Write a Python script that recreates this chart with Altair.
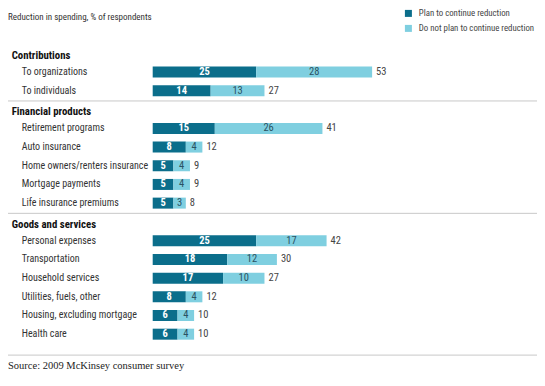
import altair as alt
import pandas as pd

# ---- data ----
groups = ["Contributions", "Financial products", "Goods and services"]
items = [
    ["To organizations", "To individuals"],
    ["Retirement programs", "Auto insurance", "Home owners/renters insurance",
     "Mortgage payments", "Life insurance premiums"],
    ["Personal expenses", "Transportation", "Household services",
     "Utilities, fuels, other", "Housing, excluding mortgage", "Health care"],
]
plan = [[25, 14], [15, 8, 5, 5, 5], [25, 18, 17, 8, 6, 6]]
not_plan = [[28, 13], [26, 4, 4, 4, 3], [17, 12, 10, 4, 4, 4]]
totals = [[53, 27], [41, 12, 9, 9, 8], [42, 30, 27, 12, 10, 10]]
series = ["Plan to continue reduction", "Do not plan to continue reduction"]
title_text = "Reduction in spending, % of respondents"
source_text = "Source: 2009 McKinsey consumer survey"

# ---- layout constants (page pixels) ----
OFFX, OFFY = 8, 8
W, H = 529, 370
FIRST_HEADER = 52
HEAD_GAP = 16.7
STEP = 19.2
SEP_GAP = 10.5
AFTER_SEP = 11.5
FOOT_GAP = 21.5
SOURCE_GAP = 11
BAR_X0 = 152.7 - OFFX
PX_PER_UNIT = 4.14

FONT = "Roboto Condensed, Roboto"
SERIF = "Liberation Serif, Times New Roman, serif"
DARK = "#0b6e8b"
LIGHT = "#7fcfe0"

header_rows, item_rows, bar_rows, sep_rows = [], [], [], []
y = FIRST_HEADER
for gi, g in enumerate(groups):
    header_rows.append({"label": g, "y": y})
    yy = y + HEAD_GAP
    for ii, it in enumerate(items[gi]):
        p, n, t = plan[gi][ii], not_plan[gi][ii], totals[gi][ii]
        item_rows.append({"label": it, "y": yy, "plan": p, "notplan": n,
                          "total": t, "mid_p": p / 2, "mid_n": p + n / 2})
        bar_rows.append({"y": yy, "series": series[0], "start": 0, "end": p})
        bar_rows.append({"y": yy, "series": series[1], "start": p, "end": p + n})
        last = yy
        yy += STEP
    if gi < len(groups) - 1:
        sep = last + SEP_GAP
        sep_rows.append({"y": sep})
        y = sep + AFTER_SEP
    else:
        sep = last + FOOT_GAP
        sep_rows.append({"y": sep})
        source_y = sep + SOURCE_GAP

headers = pd.DataFrame(header_rows)
rows = pd.DataFrame(item_rows)
bars = pd.DataFrame(bar_rows)
seps = pd.DataFrame(sep_rows)
misc = pd.DataFrame([{"label": title_text, "y": 12.5, "kind": "title"},
                     {"label": source_text, "y": source_y, "kind": "source"}])

xs = alt.Scale(domain=[0, 100], range=[BAR_X0, BAR_X0 + 100 * PX_PER_UNIT],
               zero=False, nice=False)
ys = alt.Scale(domain=[OFFY, OFFY + H], range=[0, H], zero=False, nice=False)
Y = alt.Y("y:Q", scale=ys, axis=None)

bar_layer = alt.Chart(bars).mark_bar(size=11, orient="horizontal").encode(
    x=alt.X("start:Q", scale=xs, axis=None),
    x2="end:Q",
    y=Y,
    color=alt.Color(
        "series:N",
        scale=alt.Scale(domain=series, range=[DARK, LIGHT]),
        legend=alt.Legend(
            title=None, orient="none", legendX=396, legendY=1,
            symbolType="square", symbolSize=49, symbolStrokeWidth=0,
            labelFont=FONT, labelFontSize=8.8, labelColor="#444444",
            labelOffset=6, rowPadding=5, padding=0, symbolOpacity=1,
            labelLimit=200,
        ),
    ),
)

plan_lbl = alt.Chart(rows).mark_text(
    font=FONT, fontSize=10.5, fontWeight="bold", color="white", baseline="middle"
).encode(x=alt.X("mid_p:Q", scale=xs), y=Y, text="plan:Q")

notplan_lbl = alt.Chart(rows).mark_text(
    font=FONT, fontSize=10.5, color="#2a5262", baseline="middle"
).encode(x=alt.X("mid_n:Q", scale=xs), y=Y, text="notplan:Q")

total_lbl = alt.Chart(rows).mark_text(
    font=FONT, fontSize=10.5, color="#444444", baseline="middle", align="left", dx=4
).encode(x=alt.X("total:Q", scale=xs), y=Y, text="total:Q")

item_lbl = alt.Chart(rows).mark_text(
    font=FONT, fontSize=10, color="#333333", baseline="middle", align="left"
).encode(x=alt.value(21.7 - OFFX), y=Y, text="label:N")

head_lbl = alt.Chart(headers).mark_text(
    font=FONT, fontSize=10.8, fontWeight="bold", color="#111111",
    baseline="middle", align="left"
).encode(x=alt.value(11.7 - OFFX), y=Y, text="label:N")

sep_layer = alt.Chart(seps).mark_rule(color="#c8c8c8", strokeWidth=1).encode(
    x=alt.value(0), x2=alt.value(538 - OFFX), y=Y
)

title_lbl = alt.Chart(misc).transform_filter("datum.kind == 'title'").mark_text(
    font=FONT, fontSize=9, color="#333333", baseline="middle", align="left"
).encode(x=alt.value(0), y=Y, text="label:N")

source_lbl = alt.Chart(misc).transform_filter("datum.kind == 'source'").mark_text(
    font=SERIF, fontSize=10.5, color="#222222", baseline="middle", align="left"
).encode(x=alt.value(0), y=Y, text="label:N")

chart = alt.layer(
    sep_layer, bar_layer, plan_lbl, notplan_lbl, total_lbl,
    item_lbl, head_lbl, title_lbl, source_lbl
).properties(
    width=W, height=H, padding=0, autosize=alt.AutoSizeParams(type="none"),
    background="white",
).configure_view(stroke=None)

chart.save("out.html", embed_options={"renderer": "svg", "actions": False})
